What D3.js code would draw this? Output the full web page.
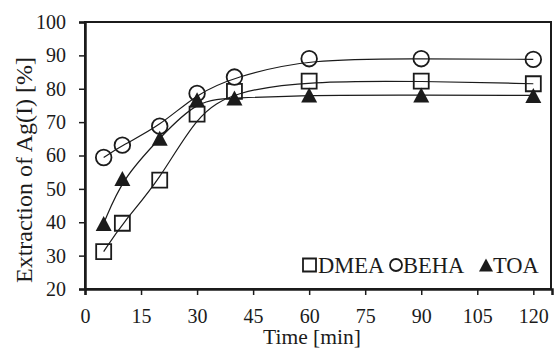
<!DOCTYPE html>
<html>
<head>
<meta charset="utf-8">
<script src="https://cdn.jsdelivr.net/npm/d3@7"></script>
<style>
  body { margin: 0; background: #fff; }
  svg { display: block; font-family: "Liberation Serif", "Times New Roman", serif; }
</style>
</head>
<body>
<div id="chart"></div>
<script>
// Data
const times = [5, 10, 20, 30, 40, 60, 90, 120];
const dmea = [31.2, 39.7, 52.6, 72.4, 79.2, 82.3, 82.3, 81.5];
const beha = [59.4, 63.1, 68.8, 78.6, 83.5, 89.0, 89.0, 88.8];
const toa = [39.6, 53.1, 65.2, 76.7, 77.2, 78.1, 78.1, 78.0];
const seriesNames = ["DMEA", "BEHA", "TOA"];
const xTicks = [0, 15, 30, 45, 60, 75, 90, 105, 120];
const yTicks = [20, 30, 40, 50, 60, 70, 80, 90, 100];

const width = 554;
const height = 350;
const margin = {top: 22, right: 2, bottom: 61, left: 85};
const ink = "#1b1b1b";

const svg = d3.select("#chart")
  .append("svg")
  .attr("width", width)
  .attr("height", height);

// Scales
const xScale = d3.scaleLinear()
  .domain([0, 125])
  .range([margin.left, width - margin.right]);
const yScale = d3.scaleLinear()
  .domain([20, 100])
  .range([height - margin.bottom, margin.top]);

// Frame
svg.append("rect")
  .attr("x", margin.left)
  .attr("y", margin.top)
  .attr("width", width - margin.left - margin.right - 1)
  .attr("height", height - margin.top - margin.bottom)
  .attr("fill", "none")
  .attr("stroke", ink)
  .attr("stroke-width", 2);

// Axes
const bottomAxis = d3.axisBottom(xScale)
  .tickValues(xTicks)
  .tickSize(6)
  .tickPadding(14);
const gx = svg.append("g")
  .attr("transform", `translate(0, ${height - margin.bottom})`)
  .call(bottomAxis);

const leftAxis = d3.axisLeft(yScale)
  .tickValues(yTicks)
  .tickSize(6)
  .tickPadding(13);
const gy = svg.append("g")
  .attr("transform", `translate(${margin.left}, 0)`)
  .call(leftAxis);

[gx, gy].forEach(g => {
  g.select(".domain").attr("stroke", ink).attr("stroke-width", 2.5);
  g.selectAll(".tick line").attr("stroke", ink).attr("stroke-width", 1.5);
  g.selectAll(".tick text")
    .attr("fill", ink)
    .style("font-family", "Liberation Serif, serif")
    .style("font-size", "20px");
});

// Axis titles
svg.append("text")
  .text("Time [min]")
  .attr("x", 312)
  .attr("y", 344)
  .attr("text-anchor", "middle")
  .attr("fill", ink)
  .style("font-size", "21.5px");

svg.append("text")
  .text("Extraction of Ag(I) [%]")
  .attr("transform", `translate(32, 170) rotate(-90)`)
  .attr("text-anchor", "middle")
  .attr("fill", ink)
  .style("font-size", "24px");

// Curves
const series = [dmea, beha, toa].map(vals => times.map((t, i) => ({t, v: vals[i]})));
const lineGenerator = d3.line()
  .x(d => xScale(d.t))
  .y(d => yScale(d.v))
  .curve(d3.curveBasis);

// Markers
const squarePath = s => `M${-s/2},${-s/2}h${s}v${s}h${-s}Z`;
const trianglePath = (w, h) => `M0,${-h/2}L${w/2},${h/2}L${-w/2},${h/2}Z`;

const drawMarker = (g, kind, x, y, big) => {
  if (kind === 0) {
    const s = big ? 15 : 13;
    g.append("path")
      .attr("d", squarePath(s))
      .attr("transform", `translate(${x}, ${y})`)
      .attr("fill", "#fff")
      .attr("stroke", ink)
      .attr("stroke-width", 1.8);
  } else if (kind === 1) {
    g.append("circle")
      .attr("cx", x).attr("cy", y)
      .attr("r", big ? 7.8 : 6)
      .attr("fill", "#fff")
      .attr("stroke", ink)
      .attr("stroke-width", 1.8);
  } else {
    g.append("path")
      .attr("d", big ? trianglePath(16, 15) : trianglePath(14, 13))
      .attr("transform", `translate(${x}, ${y})`)
      .attr("fill", ink);
  }
};

const markers = svg.append("g");
series.forEach((pts, k) => {
  pts.forEach(d => drawMarker(markers, k, xScale(d.t), yScale(d.v), true));
});

series.forEach(pts => {
  svg.append("path")
    .attr("d", lineGenerator(pts))
    .attr("fill", "none")
    .attr("stroke", ink)
    .attr("stroke-width", 1.2);
});

// Legend
const legend = svg.append("g");
const legendX = [309.5, 396, 486];
const legendTextX = [318, 403, 493];
seriesNames.forEach((name, k) => {
  drawMarker(legend, k, legendX[k], 265, false);
  legend.append("text")
    .text(name)
    .attr("x", legendTextX[k])
    .attr("y", 273)
    .attr("fill", ink)
    .style("font-size", "22.5px");
});
</script>
</body>
</html>
